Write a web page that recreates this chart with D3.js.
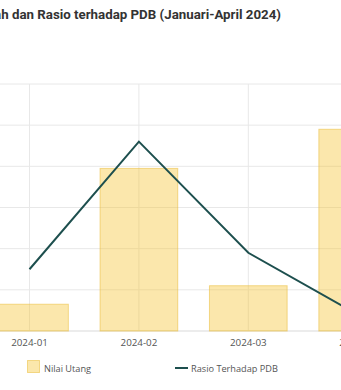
<!DOCTYPE html>
<html>
<head>
<meta charset="utf-8">
<script src="https://cdn.jsdelivr.net/npm/d3@7"></script>
<style>
  body { margin: 0; background: #fff; }
  svg { display: block; overflow: hidden; }
</style>
</head>
<body>
<div id="chart"></div>
<script>
// data
const months = ["2024-01", "2024-02", "2024-03", "2024-04"];
const nilaiUtang = [8253, 8319, 8262, 8338];      // triliun rupiah
const rasioPdb = [38.75, 39.06, 38.79, 38.64];     // persen
const leftTicks = [8240, 8260, 8280, 8300, 8320, 8340, 8360];
const titleText = "Perkembangan Utang Pemerintah dan Rasio terhadap PDB (Januari-April 2024)";

const W = 341, H = 390;
// plot area runs past the window on both sides (the picture is a crop)
const plot = { left: -25.2, right: 412.4, top: 84, bottom: 331 };

const svg = d3.select("#chart")
    .append("svg")
    .attr("width", W)
    .attr("height", H);

let xScale = d3.scaleBand()
    .domain(months)
    .range([plot.left, plot.right])
    .paddingInner(0.29)
    .paddingOuter(0.145);

let yLeft = d3.scaleLinear()
    .domain([8240, 8360])
    .range([plot.bottom, plot.top]);

let yRight = d3.scaleLinear()
    .domain([38.6, 39.2])
    .range([plot.bottom, plot.top]);

const center = d => xScale(d) + xScale.bandwidth() / 2;

// grid
svg.append("g")
    .selectAll("line")
    .data(leftTicks)
    .join("line")
    .attr("x1", plot.left).attr("x2", plot.right)
    .attr("y1", d => yLeft(d)).attr("y2", d => yLeft(d))
    .attr("stroke", d => d == 8240 ? "#d9d9d9" : "#e8e8e8")
    .attr("stroke-width", 1);

svg.append("g")
    .selectAll("line")
    .data(months)
    .join("line")
    .attr("x1", d => center(d)).attr("x2", d => center(d))
    .attr("y1", plot.top).attr("y2", plot.bottom)
    .attr("stroke", "#e8e8e8")
    .attr("stroke-width", 1);

// bars
svg.append("g")
    .selectAll("rect")
    .data(nilaiUtang)
    .join("rect")
    .attr("x", (d, i) => xScale(months[i]))
    .attr("y", d => yLeft(d))
    .attr("width", xScale.bandwidth())
    .attr("height", d => plot.bottom - yLeft(d))
    .attr("fill", "rgba(244, 196, 48, 0.4)")
    .attr("stroke", "rgba(235, 190, 60, 0.55)")
    .attr("stroke-width", 1);

// line
const line = d3.line()
    .x((d, i) => center(months[i]))
    .y(d => yRight(d));

svg.append("path")
    .datum(rasioPdb)
    .attr("d", line)
    .attr("fill", "none")
    .attr("stroke", "#1d4f4e")
    .attr("stroke-width", 2);

// x axis labels
svg.append("g")
    .attr("transform", "translate(0," + plot.bottom + ")")
    .call(d3.axisBottom(xScale).tickSize(0).tickPadding(8))
    .call(g => g.select(".domain").remove())
    .selectAll("text")
    .attr("fill", "#555")
    .style("font-family", "'Open Sans', sans-serif")
    .style("font-size", "9.8px");

// title
svg.append("text")
    .attr("x", 281)
    .attr("y", 19)
    .attr("text-anchor", "end")
    .attr("fill", "#333")
    .style("font-family", "Roboto, sans-serif")
    .style("font-weight", "bold")
    .style("font-size", "13.3px")
    .text(titleText);

// legend
const legend = svg.append("g").style("font-family", "'Open Sans', sans-serif").style("font-size", "9.2px");
legend.append("rect")
    .attr("x", 27.5).attr("y", 360.5)
    .attr("width", 12).attr("height", 12)
    .attr("fill", "rgba(244, 196, 48, 0.4)")
    .attr("stroke", "rgba(235, 190, 60, 0.55)");
legend.append("text")
    .attr("x", 44).attr("y", 371.5)
    .attr("fill", "#555")
    .text("Nilai Utang");
legend.append("line")
    .attr("x1", 175).attr("x2", 188)
    .attr("y1", 368).attr("y2", 368)
    .attr("stroke", "#1d4f4e")
    .attr("stroke-width", 2);
legend.append("text")
    .attr("x", 191).attr("y", 371.5)
    .attr("fill", "#555")
    .text("Rasio Terhadap PDB");
</script>
</body>
</html>
